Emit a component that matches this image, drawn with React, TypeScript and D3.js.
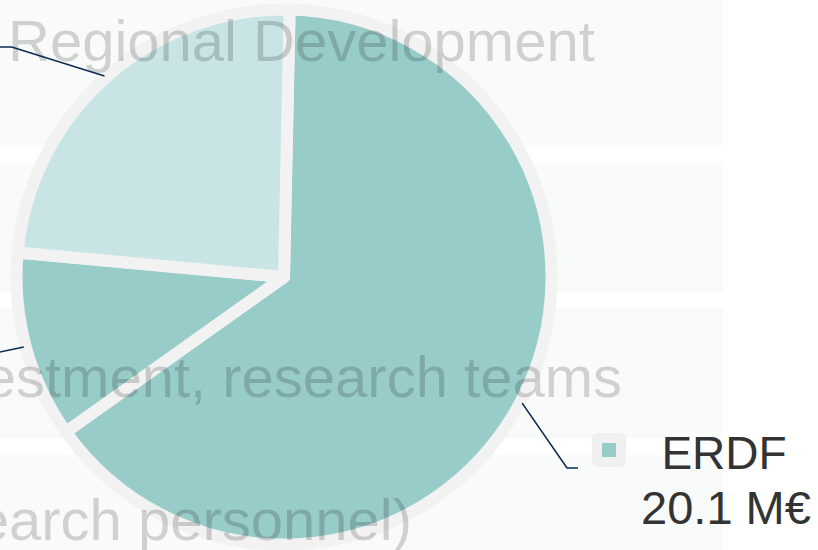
import React from "react";
import * as d3 from "d3";

// ---- data ----
const categories = ["ERDF", "State", "Region"];
const values = [20.1, 3.5, 7.4];
const valueLabels = ["20.1 M€", "3.5 M€", "7.4 M€"];
const backgroundTexts = ["Regional Development", "investment, research teams", "(research personnel)"];

// ---- layout / style ----
const W = 818;
const H = 550;
const CX = 284;
const CY = 277;
const R = 267.5;
const START = (1.2 * Math.PI) / 180;
const sliceColors = ["#98ccc9", "#98ccc9", "#c9e4e4"];
const rowBands = [
  [0, 145],
  [161, 292],
  [308, 438],
  [455, 570],
];
const bgTextPos = [
  { x: 8, y: 61, anchor: "start" },
  { x: 622, y: 397, anchor: "end" },
  { x: 412, y: 540, anchor: "end" },
];
// connector knee points and ends (label side)
const connectorLayout = [
  { kx: 567, ky: 468, ex: 578, ey: 468, visibleLabel: true },
  { kx: -29, ky: 358, ex: -60, ey: 358, visibleLabel: false },
  { kx: 11.7, ky: 47, ex: -20, ey: 47, visibleLabel: false },
];

export default function App() {
  const pie = d3
    .pie<number>()
    .sort(null)
    .value((d) => d)
    .startAngle(START)
    .endAngle(START + 2 * Math.PI);
  const arcs = pie(values);
  const arc = d3.arc<d3.PieArcDatum<number>>().innerRadius(0).outerRadius(R);

  const pointAt = (angle: number, r: number) => [CX + r * Math.sin(angle), CY - r * Math.cos(angle)];

  return (
    <svg
      width={W}
      height={H}
      style={{ position: "absolute", left: 0, top: 0, background: "#ffffff" }}
      fontFamily="'Liberation Sans', Arial, sans-serif"
    >
      <rect x={0} y={0} width={W} height={H} fill="#ffffff" />
      {rowBands.map(([y0, y1], i) => (
        <rect key={i} x={0} y={y0} width={723} height={y1 - y0} fill="#f9fafa" />
      ))}
      <g transform={`translate(${CX},${CY})`}>
        {arcs.map((a, i) => (
          <path
            key={categories[i]}
            d={arc(a) || ""}
            fill={sliceColors[i]}
            stroke="#f2f2f2"
            strokeWidth={12}
            strokeLinejoin="round"
          />
        ))}
      </g>
      {backgroundTexts.map((t, i) => (
        <text
          key={t}
          x={bgTextPos[i].x}
          y={bgTextPos[i].y}
          textAnchor={bgTextPos[i].anchor as any}
          fontSize={58}
          fill="#000"
          fillOpacity={0.17}
        >
          {t}
        </text>
      ))}
      {arcs.map((a, i) => {
        const mid = (a.startAngle + a.endAngle) / 2;
        const [sx, sy] = pointAt(mid, R + 2);
        const c = connectorLayout[i];
        return (
          <path
            key={"c" + i}
            d={`M${sx},${sy}L${c.kx},${c.ky}L${c.ex},${c.ey}`}
            fill="none"
            stroke="#0d2a55"
            strokeWidth={1.6}
          />
        );
      })}
      {arcs.map((a, i) => {
        const c = connectorLayout[i];
        if (!c.visibleLabel) return null;
        const bx = c.ex + 14;
        const by = c.ey - 35;
        return (
          <g key={"l" + i}>
            <rect x={bx} y={by} width={34} height={34} rx={5} fill="#f0f0f0" />
            <rect x={bx + 10} y={by + 10} width={14} height={14} fill={sliceColors[i]} />
            <text x={724} y={469} textAnchor="middle" fontSize={46} fill="#333333">
              {categories[i]}
            </text>
            <text x={726} y={524} textAnchor="middle" fontSize={47} fill="#333333">
              {valueLabels[i]}
            </text>
          </g>
        );
      })}
    </svg>
  );
}
